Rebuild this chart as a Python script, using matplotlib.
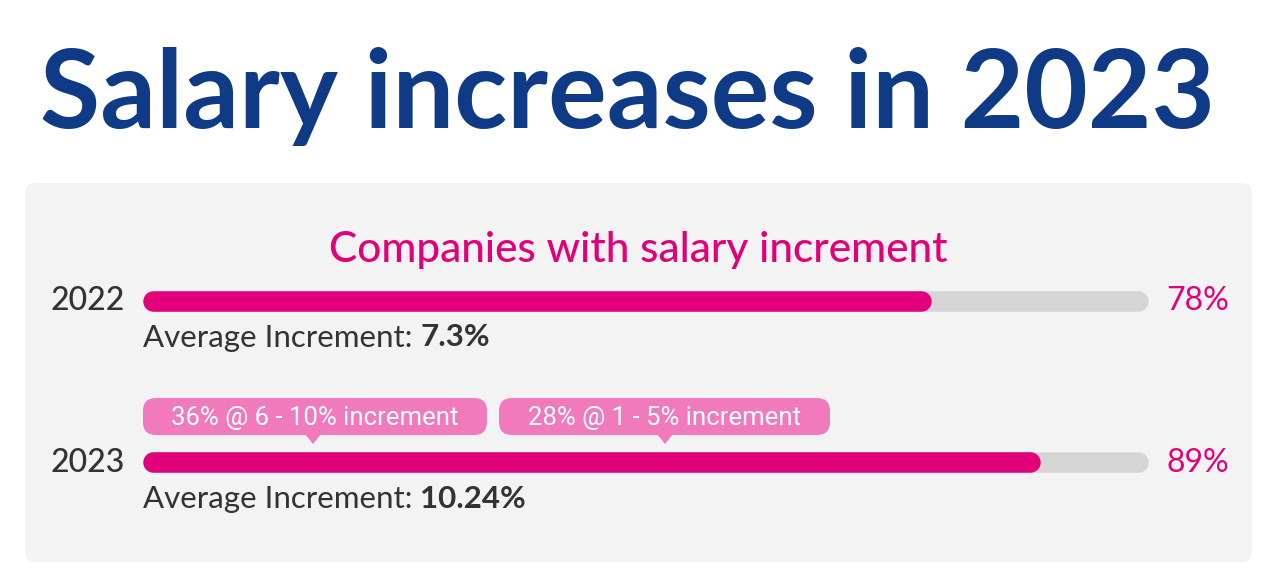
import matplotlib
matplotlib.use("Agg")
import matplotlib.pyplot as plt
from matplotlib.patches import FancyBboxPatch, Polygon

# ---------------- data ----------------
title = "Salary increases in 2023"
subtitle = "Companies with salary increment"
years = ["2022", "2023"]
pct_companies = [78, 89]
avg_increment = ["7.3%", "10.24%"]
callout_labels = ["36% @ 6 - 10% increment", "28% @ 1 - 5% increment"]

# ---------------- style ----------------
NAVY = "#0e3a86"
MAGENTA = "#e2007a"
PINK = "#f17abc"
TRACK = "#d5d5d5"
PANEL = "#f3f3f3"
DARK = "#333333"
FONT = ["Lato", "DejaVu Sans"]

W, H = 1280, 588
fig = plt.figure(figsize=(12.8, 5.88), dpi=100)
fig.patch.set_facecolor("white")

bg = fig.add_axes([0, 0, 1, 1])
bg.set_xlim(0, W)
bg.set_ylim(H, 0)
bg.axis("off")

# panel
bg.add_patch(FancyBboxPatch((25, 183), 1227, 379,
                            boxstyle="round,pad=0,rounding_size=10",
                            facecolor=PANEL, edgecolor="none", zorder=0))

# title, sized to fit target width
t = bg.text(40, 128, title, fontsize=80, fontweight="bold", color=NAVY,
            family=FONT, ha="left", va="baseline")
fig.canvas.draw()
r = fig.canvas.get_renderer()
wpx = t.get_window_extent(r).width
t.set_fontsize(80 * 1175 / wpx)

# subtitle
bg.text(638, 262, subtitle, fontsize=30.5, color=MAGENTA, family=FONT,
        fontweight="medium", ha="center", va="baseline")

# bar axes
left_px, right_px = 153, 1138
bx = fig.add_axes([left_px / W, 0, (right_px - left_px) / W, 1])
bx.set_xlim(0, 100)
bx.set_ylim(H, 0)
bx.axis("off")
bx.patch.set_alpha(0)

bar_y = [300.5, 462]
lw = 20.5 * 72 / 100
for y, v, yr, avg in zip(bar_y, pct_companies, years, avg_increment):
    bx.plot([0, 100], [y, y], color=TRACK, lw=lw, solid_capstyle="round",
            zorder=2, clip_on=False)
    bx.plot([0, v], [y, y], color=MAGENTA, lw=lw, solid_capstyle="round",
            zorder=3, clip_on=False)
    bg.text(125, y + 1, yr, fontsize=23, color=DARK, family=FONT,
            fontweight="medium", ha="right", va="center")
    bg.text(1166, y + 1, f"{v}%", fontsize=23, color=MAGENTA, family=FONT,
            ha="left", va="center")
    t1 = bg.text(143, y + 46, "Average Increment: ", fontsize=22.5, color=DARK,
                 family=FONT, ha="left", va="baseline")
    bg.annotate(avg, xy=(1, 0), xycoords=t1, fontsize=22.5, color=DARK,
                fontweight="bold", family=FONT, ha="left", va="bottom")

# callouts above 2023 bar
boxes = [(143, 487, 313), (499, 830, 665)]
for (x0, x1, px), lab in zip(boxes, callout_labels):
    bg.add_patch(FancyBboxPatch((x0, 398), x1 - x0, 37,
                                boxstyle="round,pad=0,rounding_size=13",
                                facecolor=PINK, edgecolor="none", zorder=4))
    bg.add_patch(Polygon([[px - 8, 434], [px + 8, 434], [px, 444]],
                         closed=True, facecolor=PINK, edgecolor="none", zorder=4))
    bg.text((x0 + x1) / 2, 418, lab, fontsize=18.5, color="white",
            family=["Roboto", "DejaVu Sans"],
            ha="center", va="center", zorder=5)

fig.savefig("out.png", dpi=100, facecolor="white")
